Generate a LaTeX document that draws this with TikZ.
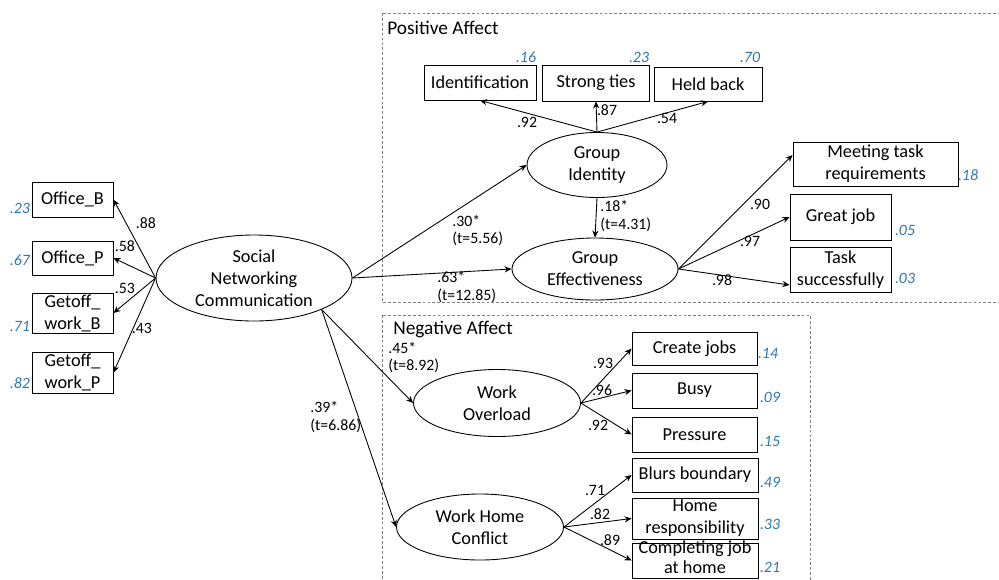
\documentclass[tikz,border=0pt]{standalone}
\usepackage{fontspec}
\setmainfont{Carlito}
\usepackage{xcolor}
\usetikzlibrary{shapes.geometric, calc, arrows.meta}

\definecolor{rsqblue}{RGB}{46,117,182}

\tikzset{
  obs/.style 2 args={draw, line width=0.5pt, inner sep=0pt, align=center,
    minimum width=#1*0.02cm, minimum height=#2*0.02cm},
  lat/.style 2 args={draw, ellipse, line width=0.5pt, inner sep=0pt, align=center,
    minimum width=#1*0.02cm, minimum height=#2*0.02cm},
  arr/.style={-{Stealth[length=4pt,width=3.5pt]}, line width=0.5pt},
  coef/.style={font=\fontsize{9}{10.2}\selectfont, inner sep=0pt},
  rsq/.style={font=\fontsize{9}{10.2}\selectfont\itshape, text=rsqblue, inner sep=0pt},
  group/.style={draw=gray, dash pattern=on 1.6pt off 1.2pt, line width=0.5pt},
}

\begin{document}
\begin{tikzpicture}[x=0.02cm, y=-0.02cm, font=\fontsize{10.4}{12.5}\selectfont]
  \useasboundingbox (0,0) rectangle (999,579);
  \clip (0,0) rectangle (999,579);

  % affect groups
  \draw[group] (382,13) rectangle (1010,302);
  \node[anchor=west, inner sep=0pt, font=\fontsize{11}{13}\selectfont] (posaff) at (387,28) {Positive Affect};
  \draw[group] (382,315) rectangle (810,600);
  \node[anchor=west, inner sep=0pt, font=\fontsize{11}{13}\selectfont] (negaff) at (393,329) {Negative Affect};

  % latent variables
  \node[lat={196}{86}] (snc) at (254,278) {Social\\Networking\\Communication};
  \node[lat={140}{65}] (gi) at (597,165) {Group\\Identity};
  \node[lat={166}{62}] (ge) at (595,269) {Group\\Effectiveness};
  \node[lat={167}{67}] (wo) at (497,403) {Work\\Overload};
  \node[lat={167}{66}] (whc) at (480,527) {Work Home\\Conflict};

  % indicators
  \node[obs={81}{35}] (offB) at (72.5,199.5) {Office\_B};
  \node[obs={81}{34}] (offP) at (72.5,258) {Office\_P};
  \node[obs={81}{40}] (getB) at (72.5,313) {Getoff\_\\work\_B};
  \node[obs={81}{41}] (getP) at (72.5,372.5) {Getoff\_\\work\_P};

  \node[obs={112}{35}] (ident) at (480,82.5) {Identification};
  \node[obs={107}{36}] (ties) at (596,83) {Strong ties};
  \node[obs={108}{34}] (held) at (708,84) {Held back};

  \node[obs={165}{44}] (meet) at (875.5,164) {Meeting task\\requirements};
  \node[obs={101}{46}] (great) at (840.5,217) {Great job};
  \node[obs={101}{45}] (task) at (840.5,269.5) {Task\\successfully};

  \node[obs={125}{33}] (create) at (694.5,348.5) {Create jobs};
  \node[obs={125}{35}] (busy) at (694.5,390.5) {Busy};
  \node[obs={125}{35}] (press) at (694.5,434.5) {Pressure};

  \node[obs={126}{34}] (blurs) at (695,475) {Blurs boundary};
  \node[obs={126}{41}] (home) at (695,518.5) {Home\\responsibility};
  \node[obs={126}{35}, label={[align=center, inner sep=0pt, yshift=0.06cm, font=\fontsize{10.4}{11.5}\selectfont]center:Completing job\\at home}] (compl) at (695,560.5) {};

  % paths
  \foreach \b in {offB,offP,getB,getP}
    \draw[arr] (snc.west) -- (\b.east);
  \draw[arr] (snc.east) -- (gi.west);
  \draw[arr] (snc.east) -- (ge.west);
  \coordinate (sncse) at (snc.-25);
  \draw[arr] (sncse) -- (wo.west);
  \draw[arr] (sncse) -- (whc.west);

  \foreach \b in {ident,ties,held}
    \draw[arr] (gi.north) -- (\b.south);
  \draw[arr] (gi.south) -- (ge.north);

  \draw[arr] (ge.east) -- ([yshift=0.18cm]meet.west);
  \draw[arr] (ge.east) -- (great.west);
  \draw[arr] (ge.east) -- ([yshift=-0.31cm]task.west);

  \foreach \b in {create,busy,press}
    \draw[arr] (wo.east) -- (\b.west);
  \foreach \b in {blurs,home,compl}
    \draw[arr] (whc.east) -- (\b.west);

  % loadings
  \foreach \x/\y/\v [count=\i] in {146/223/.88, 125/246/.58, 125/288/.53, 142/328/.43,
      527/122/.92, 607/110/.87, 667/118/.54, 760/204/.90, 750/241/.97, 722/280/.98,
      603/363/.93, 602/390/.96, 598/425/.92, 595/490/.71, 600/514/.82, 610/540/.89}
  {
    \node[coef] (coef\i) at (\x,\y) {\v};
  }

  % structural paths with t values
  \foreach \x/\y/\v [count=\i] in {452/230.5/{.30*\\(t=5.56)}, 437/287/{.63*\\(t=12.85)},
      600/216/{.18*\\(t=4.31)}, 388/357.5/{.45*\\(t=8.92)}, 310/417/{.39*\\(t=6.86)}}
  {
    \node[coef, anchor=west, align=left] (tval\i) at (\x,\y) {\v};
  }

  % r squared
  \foreach \x/\y/\v [count=\i] in {20/208/.23, 20/260/.67, 20/326/.71, 20/383/.82,
      526/57/.16, 639/57/.23, 750/57/.70, 968/175/.18, 905/230/.05, 905/278/.03,
      768/353/.14, 770/397/.09, 770/441/.15, 770/482/.49, 770/524/.33, 770/567/.21}
  {
    \node[rsq] (rsq\i) at (\x,\y) {\v};
  }
\end{tikzpicture}
\end{document}
